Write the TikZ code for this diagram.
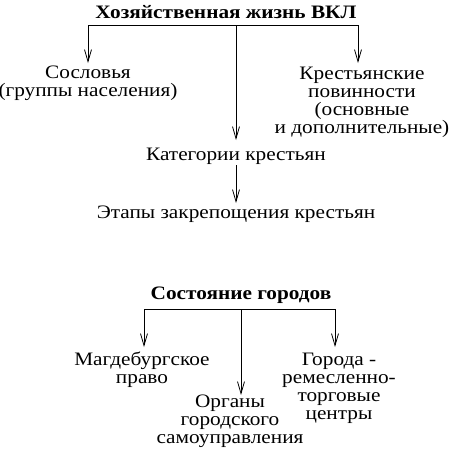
\documentclass[tikz,border=0pt]{standalone}
\usepackage{fontspec}
\setmainfont[FakeStretch=1.12]{Liberation Serif}
\usepackage{tikz}
\usetikzlibrary{arrows.meta,positioning}

\tikzset{
  txt/.style={inner sep=0pt,align=center,font=\fontsize{19}{18}\selectfont},
  head/.style={inner sep=0pt,font=\fontsize{19}{18}\selectfont\bfseries},
}

\begin{document}
\begin{tikzpicture}[x=1pt,y=-1pt,line width=0.8pt,>={Straight Barb[length=12pt,width=7pt]}]
    \useasboundingbox (0,0) rectangle (452,448);
    % economy of the grand duchy
    \node[head] (econ) at (226,12) {Хозяйственная жизнь ВКЛ};
    \coordinate (barL) at (88,25);
    \coordinate (barM) at (236,25);
    \coordinate (barR) at (358,25);
    \node[txt,anchor=north] (estates) at (88,66) {Сословья\\(группы населения)};
    \node[txt,anchor=north] (duties) at (362,67) {Крестьянские\\повинности\\(основные\\и дополнительные)};
    \node[txt,anchor=north] (cats) at (236,148) {Категории крестьян};
    \node[txt,anchor=north] (stages) at (236,206) {Этапы закрепощения крестьян};
    \draw (barL) -- (barR);
    \draw[->,shorten >=3pt] (barL) -- (estates.north);
    \draw[->,shorten >=4pt] (barR) -- (barR |- duties.north);
    \draw[->,shorten >=8pt] (barM) -- (cats.north);
    \draw[->,shorten >=3pt] (cats.south) -- (stages.north);
    % towns
    \node[head] (towns) at (241,295) {Состояние городов};
    \coordinate (tbarL) at (144,309);
    \coordinate (tbarM) at (241,309);
    \coordinate (tbarR) at (335,309);
    \node[txt,anchor=north] (law) at (142,351) {Магдебургское\\право};
    \node[txt,anchor=north] (organs) at (230,395) {Органы\\городского\\самоуправления};
    \node[txt,anchor=north] (centres) at (339,353) {Города -\\ремесленно-\\торговые\\центры};
    \draw (tbarL) -- (tbarR);
    \draw[->,shorten >=4pt] (tbarL) -- (tbarL |- law.north);
    \draw[->] (tbarM) -- (tbarM |- organs.north);
    \draw[->,shorten >=6pt] (tbarR) -- (tbarR |- centres.north);
\end{tikzpicture}
\end{document}
